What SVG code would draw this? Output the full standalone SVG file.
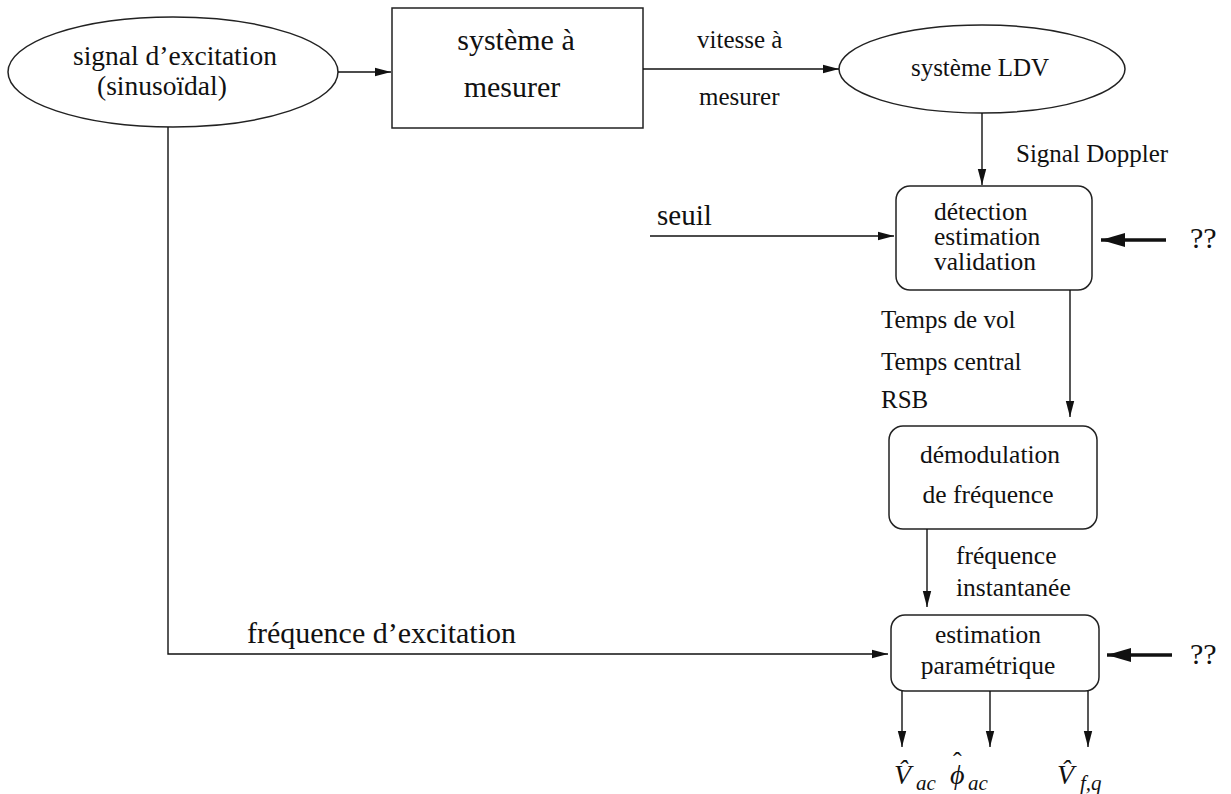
<svg xmlns="http://www.w3.org/2000/svg" width="1231" height="794" viewBox="0 0 1231 794" font-family="'Liberation Serif', 'DejaVu Serif', 'Times New Roman', Times, serif">
<style>
text{font-family:'Liberation Serif','DejaVu Serif','Times New Roman',Times,serif;fill:#111}
.node{fill:#fff;stroke:#222;stroke-width:1.5}
.c{fill:none;stroke:#111;stroke-width:1.4}
.thick{fill:none;stroke:#111;stroke-width:3.4}
.s25{font-size:25px}
.s26{font-size:25.5px}
.s30{font-size:30px}
.mid{text-anchor:middle}
.it{font-style:italic}
.hat{font-style:normal;font-size:26px}
.sub{font-size:21px}
</style>
<defs>
<marker id="a" markerUnits="userSpaceOnUse" markerWidth="16" markerHeight="10" refX="16" refY="5" orient="auto">
<path d="M0,0.8 L16,5 L0,9.2 z" fill="#111"/>
</marker>
<marker id="b" markerUnits="userSpaceOnUse" markerWidth="24" markerHeight="16" refX="24" refY="8" orient="auto">
<path d="M0,1 L24,8 L0,15 z" fill="#111"/>
</marker>
</defs>
<rect width="1231" height="794" fill="#fff"/>

<g id="excitation">
<ellipse class="node" cx="173" cy="72" rx="165" ry="55"/>
<text x="73" y="65" style="font-size:27.5px">signal d’excitation</text>
<text x="97" y="95" style="font-size:27.5px">(sinusoïdal)</text>
</g>

<g id="systeme">
<rect class="node" x="392" y="8" width="251" height="120"/>
<text x="516" y="50" class="s30 mid">système à</text>
<text x="512" y="97" class="s30 mid">mesurer</text>
</g>

<g id="ldv">
<ellipse class="node" cx="982" cy="69" rx="143" ry="44"/>
<text x="980" y="76" class="s25 mid">système LDV</text>
</g>

<g id="detection">
<rect class="node" x="896" y="186" width="196" height="104" rx="14"/>
<text x="934" y="220" class="s26">détection</text>
<text x="934" y="245" class="s26">estimation</text>
<text x="934" y="270" class="s26">validation</text>
</g>

<g id="demodulation">
<rect class="node" x="889" y="426" width="208" height="103" rx="14"/>
<text x="990" y="463" class="s26 mid">démodulation</text>
<text x="988" y="503" class="s26 mid">de fréquence</text>
</g>

<g id="estimation">
<rect class="node" x="891" y="615" width="208" height="76" rx="14"/>
<text x="988" y="643" class="s26 mid">estimation</text>
<text x="988" y="674" class="s26 mid">paramétrique</text>
</g>

<g id="connectors">
<line class="c" x1="338" y1="72" x2="391" y2="72" marker-end="url(#a)"/>
<line class="c" x1="643" y1="69" x2="839" y2="69" marker-end="url(#a)"/>
<line class="c" x1="982" y1="113" x2="982" y2="185" marker-end="url(#a)"/>
<line class="c" x1="650" y1="236" x2="894" y2="236" marker-end="url(#a)"/>
<line class="thick" x1="1166" y1="240" x2="1101" y2="240" marker-end="url(#b)"/>
<line class="c" x1="1070" y1="290" x2="1070" y2="417" marker-end="url(#a)"/>
<line class="c" x1="927" y1="529" x2="927" y2="607" marker-end="url(#a)"/>
<polyline class="c" points="168,127 168,654 888,654" marker-end="url(#a)"/>
<line class="thick" x1="1172" y1="655" x2="1107" y2="655" marker-end="url(#b)"/>
<line class="c" x1="902" y1="691" x2="902" y2="747" marker-end="url(#a)"/>
<line class="c" x1="990" y1="691" x2="990" y2="747" marker-end="url(#a)"/>
<line class="c" x1="1088" y1="691" x2="1088" y2="747" marker-end="url(#a)"/>
</g>

<g id="labels">
<text x="697" y="48" class="s25">vitesse à</text>
<text x="699" y="105" class="s25">mesurer</text>
<text x="1016" y="162" class="s25">Signal Doppler</text>
<text x="657" y="225" style="font-size:29px">seuil</text>
<text x="1190" y="248" class="s30">??</text>
<text x="881" y="328" class="s25">Temps de vol</text>
<text x="881" y="370" class="s25">Temps central</text>
<text x="881" y="408" class="s25">RSB</text>
<text x="956" y="564" class="s26">fréquence</text>
<text x="956" y="596" class="s26">instantanée</text>
<text x="247" y="643" class="s30">fréquence d’excitation</text>
<text x="1190" y="664" class="s30">??</text>
<text x="894" y="784" class="it" style="font-size:28px">V̂<tspan class="sub" x="916" dy="6">ac</tspan></text>
<text x="950" y="784" class="it" style="font-size:28px">ϕ<tspan class="hat" x="953" dy="-14">ˆ</tspan><tspan class="sub" x="968" dy="20">ac</tspan></text>
<text x="1057" y="784" class="it" style="font-size:28px">V̂<tspan class="sub" x="1080" dy="6">f,q</tspan></text>
</g>
</svg>
